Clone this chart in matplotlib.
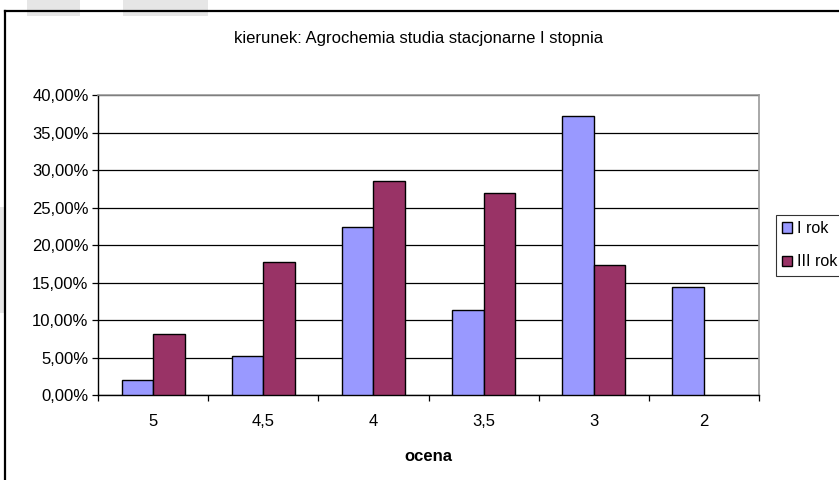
import numpy as np
import matplotlib
matplotlib.use("Agg")
import matplotlib.pyplot as plt
from matplotlib.patches import Patch, Rectangle
from matplotlib.lines import Line2D
from matplotlib.ticker import FuncFormatter

plt.rcParams['font.family'] = ['Liberation Sans', 'DejaVu Sans']

# data
oceny = ["5", "4,5", "4", "3,5", "3", "2"]
i_rok = [2.04, 5.25, 22.43, 11.39, 37.25, 14.37]
iii_rok = [8.18, 17.76, 28.57, 27.0, 17.3, 0.0]
serie = ["I rok", "III rok"]
kolory = ["#9999FF", "#993366"]

fig = plt.figure(figsize=(8.39, 4.8), dpi=100)

# faint background blocks from the scan
for (x0, y0, w, h) in [(27, 0, 53, 16), (123, 0, 85, 16), (0, 207, 5, 106)]:
    fig.add_artist(Rectangle((x0 / 839, 1 - (y0 + h) / 480), w / 839, h / 480,
                             transform=fig.transFigure, color="#e6e6e6", lw=0, zorder=0))

# chart border (left and top visible)
fig.add_artist(Line2D([5 / 839, 5 / 839], [0, 1 - 11 / 480], transform=fig.transFigure, color="black", lw=1.6))
fig.add_artist(Line2D([5 / 839, 1], [1 - 11 / 480, 1 - 11 / 480], transform=fig.transFigure, color="black", lw=1.6))

ax = fig.add_axes([98.3 / 839, 1 - 395 / 480, (758.7 - 98.3) / 839, (395 - 95.3) / 480])

x = np.arange(len(oceny))
w = 1 / 3.5
fs = 12
ax.bar(x - w / 2, i_rok, w, color=kolory[0], edgecolor="black",
       lw=[1 if v > 0 else 0 for v in i_rok], zorder=3)
ax.bar(x + w / 2, iii_rok, w, color=kolory[1], edgecolor="black",
       lw=[1 if v > 0 else 0 for v in iii_rok], zorder=3)

ax.set_xlim(-0.5, len(oceny) - 0.5)
ax.set_ylim(0, 40)
ax.set_yticks(np.arange(0, 41, 5))
ax.yaxis.set_major_formatter(FuncFormatter(lambda v, p: f"{v:.2f}%".replace(".", ",")))
ax.yaxis.grid(True, color="black", lw=0.9, zorder=0)
ax.set_axisbelow(True)

ax.set_xticks(np.arange(-0.5, len(oceny)), [""] * (len(oceny) + 1))
ax.set_xticks(x, oceny, minor=True)
ax.tick_params(axis="x", which="minor", length=0, pad=14, labelsize=fs)
ax.tick_params(axis="x", which="major", length=4, width=0.9, direction="out")
ax.tick_params(axis="y", length=4, width=0.9, labelsize=fs, pad=3)

for s in ["top", "right"]:
    ax.spines[s].set_color("#999999")
    ax.spines[s].set_linewidth(1.2)
for s in ["left", "bottom"]:
    ax.spines[s].set_color("black")
    ax.spines[s].set_linewidth(1)

ax.set_xlabel("ocena", fontweight="bold", fontsize=fs, labelpad=14)

fig.text(419 / 839, 1 - 38 / 480, "kierunek: Agrochemia studia stacjonarne I stopnia",
         ha="center", va="center", fontsize=fs)

handles = [Patch(facecolor=c, edgecolor="black", lw=1) for c in kolory]
leg = fig.legend(handles, serie, loc="upper left", bbox_to_anchor=(775.7 / 839, 1 - 214.7 / 480),
                 frameon=True, fancybox=False, fontsize=11.5, handlelength=0.6, handleheight=0.6,
                 handletextpad=0.35, borderpad=0.4, labelspacing=1.15, borderaxespad=0)
leg.get_frame().set_edgecolor("black")
leg.get_frame().set_linewidth(0.8)

fig.savefig("out.png", dpi=100)
